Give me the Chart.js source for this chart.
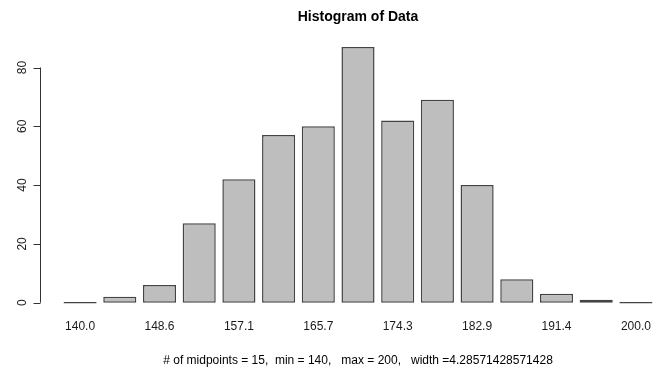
<!DOCTYPE html>
<html><head><meta charset="utf-8">
<script src="https://cdn.jsdelivr.net/npm/chart.js@4/dist/chart.umd.min.js"></script>
<style>html,body{margin:0;padding:0;background:#fff;overflow:hidden;width:653px;height:376px}canvas{display:block}</style>
</head><body>
<canvas id="c" width="716" height="376"></canvas>
<script>
// ---- data ----
const binMidpoints = ['140.0','144.3','148.6','152.9','157.1','161.4','165.7','170.0','174.3','178.6','182.9','187.1','191.4','195.7','200.0'];
const counts = [0, 2, 6, 27, 42, 57, 60, 87, 62, 69, 40, 8, 3, 1, 0];
const labelledBins = [0, 2, 4, 6, 8, 10, 12, 14];
const yTicks = [0, 20, 40, 60, 80];
const titleText = 'Histogram of Data';
const subText = '# of midpoints = 15,  min = 140,   max = 200,   width =4.28571428571428';

const FONT = "'Liberation Sans', Arial, sans-serif";
const INK = '#1a1a1a';

const rAxisPlugin = {
  id: 'rAxis',
  afterDraw(chart) {
    const ctx = chart.ctx, ys = chart.scales.y;
    const x0 = Math.round(chart.chartArea.left) + 0.5;
    ctx.save();
    ctx.strokeStyle = '#333'; ctx.lineWidth = 1;
    ctx.beginPath();
    ctx.moveTo(x0, ys.getPixelForValue(yTicks[0]));
    ctx.lineTo(x0, ys.getPixelForValue(yTicks[yTicks.length - 1]));
    ys.ticks.forEach(t => {
      const py = Math.round(ys.getPixelForValue(t.value)) + 0.5;
      ctx.moveTo(x0 - 7, py); ctx.lineTo(x0, py);
    });
    ctx.stroke();
    ctx.fillStyle = INK;
    ctx.font = '12px ' + FONT;
    ctx.textAlign = 'center'; ctx.textBaseline = 'alphabetic';
    ys.ticks.forEach(t => {
      const py = ys.getPixelForValue(t.value);
      ctx.save(); ctx.translate(25.5, py); ctx.rotate(-Math.PI / 2);
      ctx.fillText(String(t.value), 0, 0);
      ctx.restore();
    });
    ctx.restore();
  }
};

new Chart(document.getElementById('c'), {
  type: 'bar',
  data: {
    datasets: [{
      data: counts.map((v, i) => ({ x: i, y: v })),
      backgroundColor: '#bebebe',
      borderColor: '#444',
      borderWidth: 1.5,
      borderSkipped: false,
      minBarLength: 1.5,
      barPercentage: 1,
      categoryPercentage: 1 / 1.2
    }]
  },
  options: {
    responsive: false,
    animation: false,
    devicePixelRatio: 1,
    layout: { padding: { left: 40, right: 40, top: 0, bottom: 0 } },
    plugins: {
      legend: { display: false },
      tooltip: { enabled: false },
      title: {
        display: true, text: titleText, color: '#000',
        font: { family: FONT, size: 14, weight: 'bold' },
        padding: { top: 9, bottom: 10.9 }
      },
      subtitle: {
        display: true, text: subText, position: 'bottom', color: '#000',
        font: { family: FONT, size: 12, weight: 'normal' },
        padding: { top: 0, bottom: 7.8 }
      }
    },
    scales: {
      x: {
        type: 'linear', min: -1.01, max: 15.01, offset: false,
        grid: { display: false, drawTicks: false },
        border: { display: false },
        afterBuildTicks: s => { s.ticks = labelledBins.map(v => ({ value: v })); },
        afterFit: s => { s.height = 40.9; },
        ticks: {
          autoSkip: false, maxRotation: 0, minRotation: 0, padding: 7,
          color: INK, font: { family: FONT, size: 12 },
          callback: v => binMidpoints[v]
        }
      },
      y: {
        type: 'linear', min: -3.48, max: 90.48,
        grid: { display: false },
        border: { display: false },
        afterBuildTicks: s => { s.ticks = yTicks.map(v => ({ value: v })); },
        afterFit: s => { s.width = 0; },
        ticks: { display: false }
      }
    }
  },
  plugins: [rAxisPlugin]
});
</script>
</body></html>
